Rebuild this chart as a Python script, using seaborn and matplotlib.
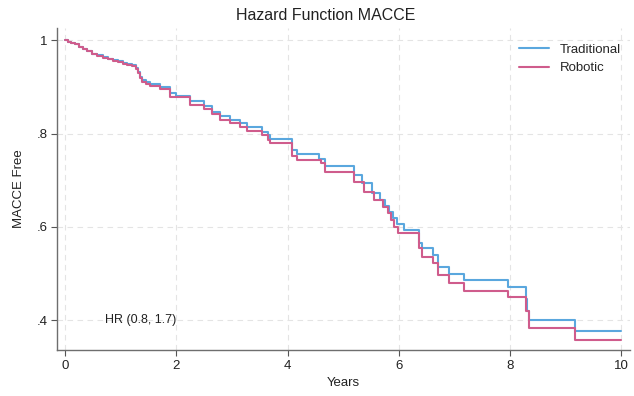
"""Kaplan-Meier style MACCE-free curves, traditional vs robotic."""

import matplotlib

matplotlib.use("Agg")
import matplotlib.pyplot as plt
import pandas as pd
import seaborn as sns

# step times (years) and survival after each step
TRAD_TIMES = [0.0, 0.05, 0.10, 0.18, 0.25, 0.33, 0.40, 0.48, 0.58, 0.69, 0.78, 0.87, 0.95,
              1.05, 1.12, 1.20, 1.27, 1.32, 1.35, 1.38, 1.45, 1.53, 1.71,
              1.89, 2.0, 2.25, 2.49, 2.64, 2.78, 2.97, 3.15, 3.27, 3.54, 3.64, 3.69,
              4.08, 4.17, 4.57, 4.68, 5.19, 5.34, 5.52, 5.67, 5.76, 5.82, 5.90, 5.97,
              6.09, 6.36, 6.41, 6.61, 6.70, 6.91, 7.17, 7.97, 8.28, 8.31, 8.34, 9.16, 10.0]
TRAD_SURV = [1.0, 0.997, 0.994, 0.991, 0.986, 0.982, 0.977, 0.971, 0.968, 0.964, 0.960, 0.957, 0.955,
             0.952, 0.949, 0.946, 0.940, 0.932, 0.922, 0.914, 0.910, 0.907, 0.900,
             0.888, 0.880, 0.870, 0.859, 0.846, 0.837, 0.830, 0.823, 0.814, 0.804, 0.796, 0.788,
             0.764, 0.757, 0.746, 0.730, 0.711, 0.693, 0.672, 0.657, 0.644, 0.632, 0.618, 0.606,
             0.594, 0.565, 0.554, 0.539, 0.514, 0.500, 0.486, 0.471, 0.445, 0.420, 0.401, 0.377, 0.377]

ROBO_TIMES = [0.0, 0.05, 0.10, 0.18, 0.25, 0.33, 0.40, 0.48, 0.58, 0.69, 0.78, 0.87, 0.95,
              1.05, 1.12, 1.20, 1.27, 1.32, 1.35, 1.38, 1.45, 1.53, 1.71,
              1.89, 2.25, 2.49, 2.64, 2.78, 2.97, 3.15, 3.27, 3.54, 3.64, 3.69,
              4.08, 4.17, 4.60, 4.68, 5.19, 5.38, 5.56, 5.71, 5.80, 5.86, 5.92, 5.99,
              6.36, 6.42, 6.61, 6.70, 6.91, 7.17, 7.97, 8.28, 8.34, 9.16, 10.0]
ROBO_SURV = [1.0, 0.997, 0.994, 0.991, 0.986, 0.982, 0.977, 0.971, 0.967, 0.963, 0.959, 0.956, 0.953,
             0.950, 0.947, 0.944, 0.938, 0.930, 0.919, 0.911, 0.906, 0.903, 0.895,
             0.878, 0.861, 0.852, 0.841, 0.830, 0.822, 0.815, 0.806, 0.796, 0.787, 0.779,
             0.751, 0.744, 0.736, 0.717, 0.696, 0.675, 0.657, 0.642, 0.629, 0.614, 0.600, 0.586,
             0.554, 0.536, 0.522, 0.496, 0.480, 0.463, 0.450, 0.420, 0.383, 0.357, 0.357]

GROUPS = ["Traditional", "Robotic"]
X_TICKS = [0, 2, 4, 6, 8, 10]
Y_TICKS = [0.4, 0.6, 0.8, 1.0]
Y_TICK_LABELS = [".4", ".6", ".8", "1"]
HR_LABEL = "HR (0.8, 1.7)"

PALETTE = {"Traditional": "#5aa7de", "Robotic": "#cf5c8c"}


def build_frame() -> pd.DataFrame:
    trad = pd.DataFrame({"years": TRAD_TIMES, "surv": TRAD_SURV, "group": GROUPS[0]})
    robo = pd.DataFrame({"years": ROBO_TIMES, "surv": ROBO_SURV, "group": GROUPS[1]})
    return pd.concat([trad, robo], ignore_index=True)


def main() -> None:
    sns.set_style("white")
    plt.rcParams["font.family"] = ["Liberation Sans", "DejaVu Sans"]

    df = build_frame()
    fig = plt.figure(figsize=(6.34, 3.96), dpi=100)
    ax = fig.add_axes([0.09, 0.116, 0.904, 0.813])

    sns.lineplot(
        data=df, x="years", y="surv", hue="group", hue_order=GROUPS,
        palette=PALETTE, estimator=None, sort=False, drawstyle="steps-post",
        linewidth=1.5, ax=ax,
    )

    ax.set_xlim(-0.144, 10.16)
    ax.set_ylim(0.336, 1.026)
    ax.set_xticks(X_TICKS)
    ax.set_xticklabels([str(t) for t in X_TICKS], fontsize=9.5, color="#222222")
    ax.set_yticks(Y_TICKS)
    ax.set_yticklabels(Y_TICK_LABELS, fontsize=9.5, color="#222222")
    ax.tick_params(axis="both", length=4, width=0.8, color="#555555", direction="out",
                   bottom=True, left=True, pad=3)
    ax.grid(True, linestyle=(0, (5, 4)), color="#e4e4e4", linewidth=0.8)
    ax.set_axisbelow(True)

    for side in ["top", "right"]:
        ax.spines[side].set_visible(False)
    for side in ["left", "bottom"]:
        ax.spines[side].set_color("#6e6e6e")
        ax.spines[side].set_linewidth(1.0)

    ax.set_xlabel("Years", fontsize=9.5, color="#222222", labelpad=4)
    ax.set_ylabel("MACCE Free", fontsize=9.5, color="#222222", labelpad=8)
    fig.text(0.513, 0.962, "Hazard Function MACCE", ha="center", va="center",
             fontsize=11.5, color="#222222")
    ax.text(0.72, 0.40, HR_LABEL, ha="left", va="center", fontsize=9, color="#222222")

    leg = ax.legend(loc="upper right", frameon=False, fontsize=9.5, handlelength=2.3,
                    borderaxespad=0.3, labelspacing=0.45, bbox_to_anchor=(1.0, 0.98))
    for line in leg.get_lines():
        line.set_linewidth(1.5)

    fig.savefig("out.png", dpi=100)
    plt.close(fig)


if __name__ == "__main__":
    main()
